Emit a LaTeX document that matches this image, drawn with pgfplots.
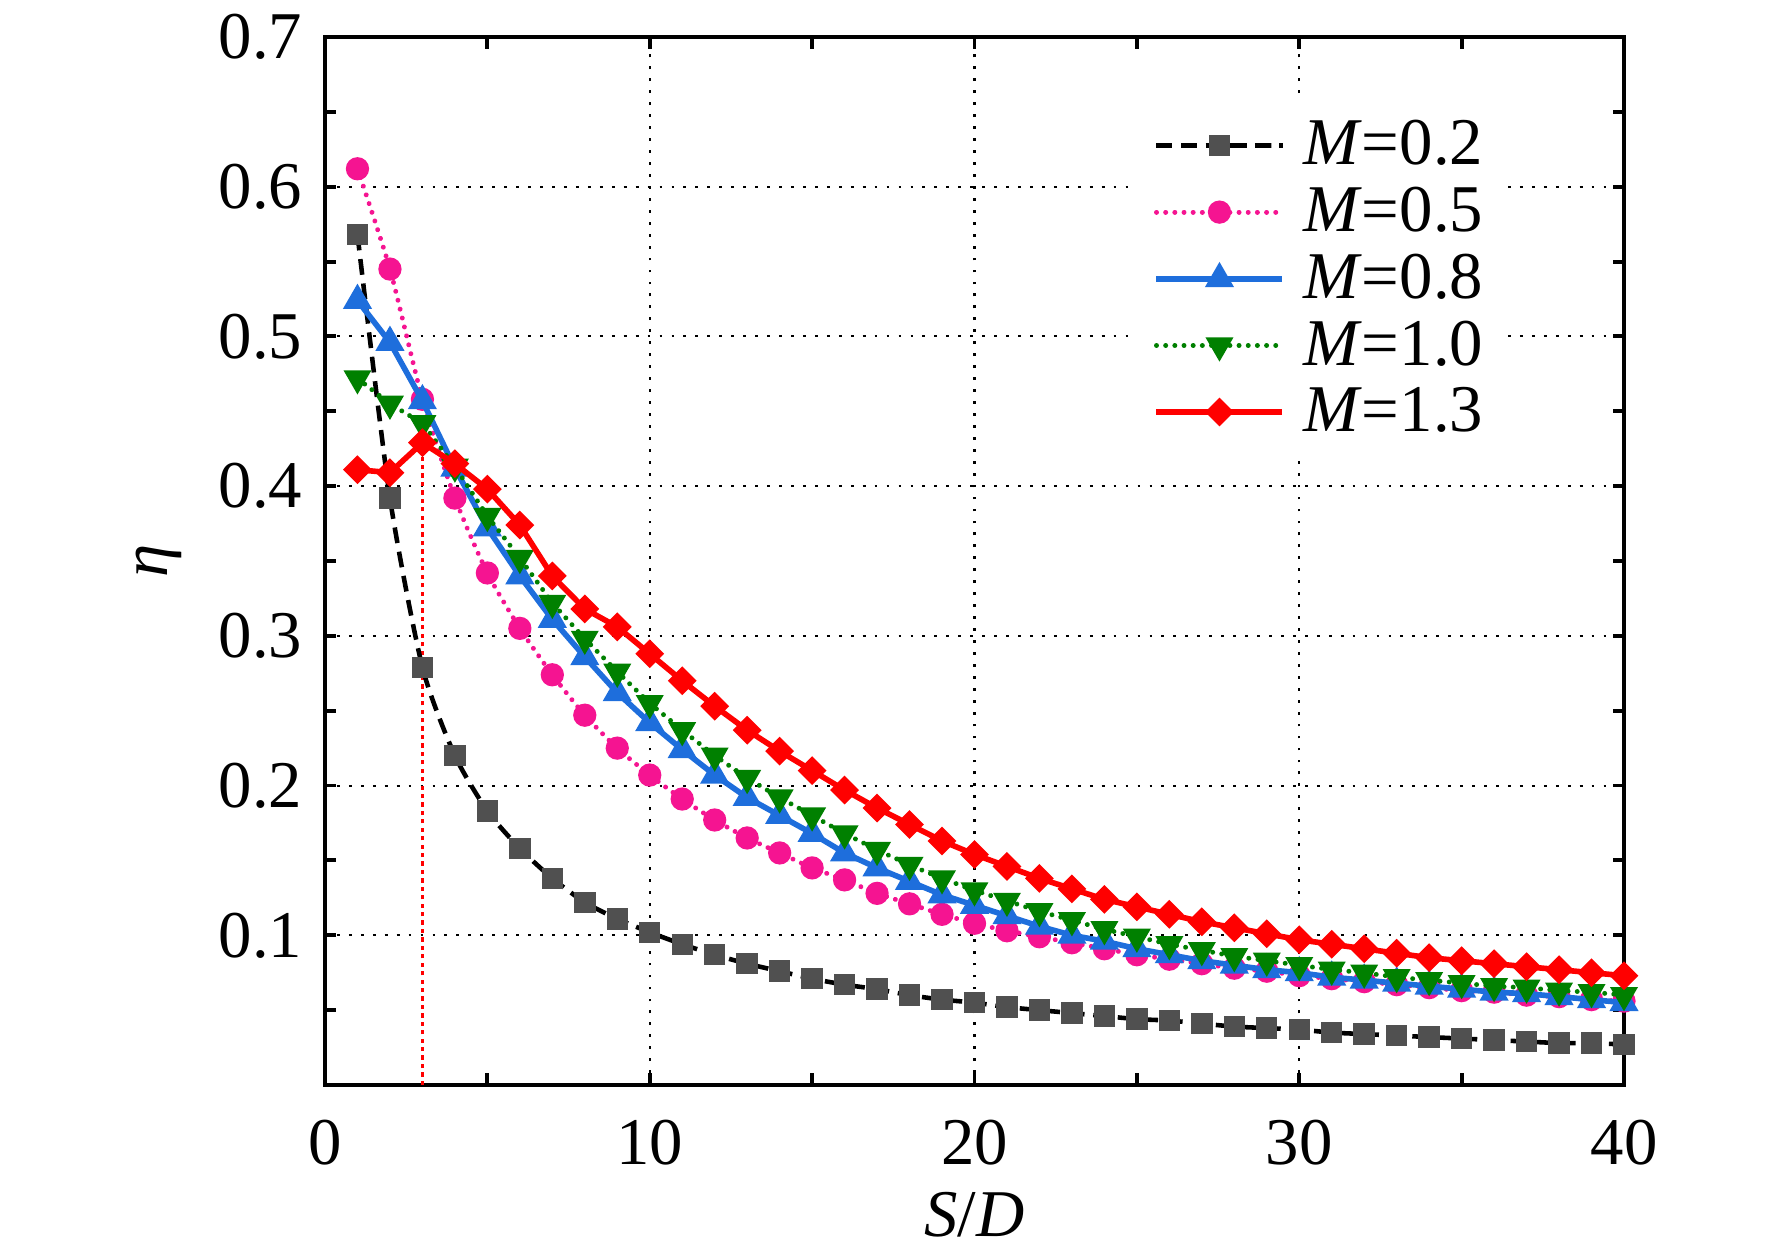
\documentclass[border=0pt]{standalone}
\usepackage{fontspec}
\setmainfont{Liberation Serif}
\usepackage{pgfplots}
\pgfplotsset{compat=1.18}
\definecolor{cgray}{RGB}{80,80,80}
\definecolor{cpink}{RGB}{245,20,145}
\definecolor{cblue}{RGB}{30,110,220}
\definecolor{cgreen}{RGB}{0,128,0}
\definecolor{cred}{RGB}{255,0,0}
\newcommand{\bigf}{\fontsize{19pt}{22pt}\selectfont}
\begin{document}
\begin{tikzpicture}
\path[use as bounding box] (-3.25cm,-1.69cm) rectangle (14.47cm,10.85cm);
\begin{axis}[
  at={(0,0)}, anchor=south west,
  scale only axis, width=12.99cm, height=10.48cm,
  xmin=0, xmax=40, ymin=0, ymax=0.7,
  xtick={0,10,20,30,40}, minor xtick={5,15,25,35},
  ytick={0.1,0.2,0.3,0.4,0.5,0.6,0.7}, minor ytick={0.05,0.15,0.25,0.35,0.45,0.55,0.65},
  tick align=inside, tick pos=both,
  major tick length=0.115cm, minor tick length=0.115cm,
  every tick/.style={black, line width=1.1pt},
  every minor tick/.style={black, line width=1.1pt},
  axis line style={line width=1.1pt},
  xmajorgrids, ymajorgrids,
  major grid style={black, line width=0.6pt, dash pattern=on 0.8pt off 2.6pt},
  tick label style={font=\bigf},
  /pgf/number format/assume math mode=true,
  xticklabel style={anchor=north, inner sep=0pt, yshift=-0.34cm},
  yticklabel style={anchor=east, inner sep=0pt, xshift=-0.22cm,
    /pgf/number format/fixed, /pgf/number format/precision=1, /pgf/number format/fixed zerofill},
  xlabel={\textit{S}/\textit{D}},
  ylabel={\textit{η}},
  label style={font=\bigf},
  xlabel style={at={(axis description cs:0.5,0)}, anchor=center, inner sep=0pt, yshift=-1.30cm},
  ylabel style={at={(axis description cs:0,0.5)}, anchor=center, inner sep=0pt, yshift=1.66cm},
  clip mode=individual,
  legend cell align=left,
  legend style={at={(axis description cs:0.622,0.94)}, anchor=north west, draw=none, fill=white,
    inner sep=0.2cm, row sep=0.17cm, column sep=0.18cm, nodes={inner sep=0pt}, font=\bigf},
  legend image code/.code={\draw[mark repeat=2,mark phase=2,#1] plot coordinates {(0cm,0cm) (0.63cm,0cm) (1.26cm,0cm)};},
]
\addplot[cred, line width=0.8pt, dash pattern=on 1.2pt off 1.2pt, forget plot] coordinates {(3,0) (3,0.429)};

\addplot[black, line width=1.3pt, dash pattern=on 4.5pt off 2.5pt, smooth, tension=0.4,
  mark=square*, mark size=2.4pt, mark options={solid, draw=cgray, fill=cgray}] coordinates {
(1,0.568) (2,0.392) (3,0.279) (4,0.220) (5,0.183) (6,0.158) (7,0.138) (8,0.122) (9,0.111) (10,0.102)
(11,0.094) (12,0.087) (13,0.081) (14,0.076) (15,0.071) (16,0.067) (17,0.064) (18,0.060) (19,0.057) (20,0.055)
(21,0.052) (22,0.050) (23,0.048) (24,0.046) (25,0.044) (26,0.043) (27,0.041) (28,0.039) (29,0.038) (30,0.037)
(31,0.035) (32,0.034) (33,0.033) (34,0.032) (35,0.031) (36,0.030) (37,0.029) (38,0.028) (39,0.028) (40,0.027)};
\addlegendentry{\textit{M}=0.2}

\addplot[cpink, line width=1.4pt, line cap=round, dash pattern=on 0.01pt off 2.6pt, smooth, tension=0.4,
  mark=*, mark size=2.6pt, mark options={solid, draw=cpink, fill=cpink}] coordinates {
(1,0.612) (2,0.545) (3,0.458) (4,0.392) (5,0.342) (6,0.305) (7,0.274) (8,0.247) (9,0.225) (10,0.207)
(11,0.191) (12,0.177) (13,0.165) (14,0.155) (15,0.145) (16,0.137) (17,0.128) (18,0.121) (19,0.114) (20,0.108)
(21,0.103) (22,0.099) (23,0.095) (24,0.091) (25,0.087) (26,0.084) (27,0.081) (28,0.078) (29,0.076) (30,0.073)
(31,0.071) (32,0.069) (33,0.067) (34,0.065) (35,0.063) (36,0.062) (37,0.060) (38,0.059) (39,0.057) (40,0.056)};
\addlegendentry{\textit{M}=0.5}

\addplot[cblue, line width=1.6pt,
  mark=triangle*, mark size=3.2pt, mark options={solid, draw=cblue, fill=cblue}] coordinates {
(1,0.524) (2,0.496) (3,0.457) (4,0.412) (5,0.372) (6,0.340) (7,0.311) (8,0.286) (9,0.262) (10,0.242)
(11,0.224) (12,0.207) (13,0.192) (14,0.180) (15,0.168) (16,0.155) (17,0.145) (18,0.136) (19,0.127) (20,0.120)
(21,0.113) (22,0.106) (23,0.100) (24,0.096) (25,0.091) (26,0.087) (27,0.083) (28,0.080) (29,0.077) (30,0.075)
(31,0.072) (32,0.070) (33,0.068) (34,0.066) (35,0.064) (36,0.062) (37,0.061) (38,0.059) (39,0.057) (40,0.055)};
\addlegendentry{\textit{M}=0.8}

\addplot[cgreen, line width=1.4pt, line cap=round, dash pattern=on 0.01pt off 2.6pt,
  mark=triangle*, mark size=3.2pt, mark options={solid, rotate=180, draw=cgreen, fill=cgreen}] coordinates {
(1,0.472) (2,0.455) (3,0.442) (4,0.413) (5,0.380) (6,0.352) (7,0.322) (8,0.298) (9,0.276) (10,0.255)
(11,0.237) (12,0.220) (13,0.205) (14,0.192) (15,0.180) (16,0.168) (17,0.157) (18,0.147) (19,0.138) (20,0.130)
(21,0.123) (22,0.116) (23,0.110) (24,0.104) (25,0.099) (26,0.094) (27,0.090) (28,0.086) (29,0.083) (30,0.080)
(31,0.077) (32,0.075) (33,0.072) (34,0.070) (35,0.068) (36,0.066) (37,0.065) (38,0.063) (39,0.062) (40,0.060)};
\addlegendentry{\textit{M}=1.0}

\addplot[cred, line width=1.6pt,
  mark=square*, mark size=2.1pt, mark options={solid, rotate=45, draw=cred, fill=cred}] coordinates {
(1,0.411) (2,0.409) (3,0.429) (4,0.415) (5,0.398) (6,0.374) (7,0.340) (8,0.318) (9,0.306) (10,0.288)
(11,0.270) (12,0.253) (13,0.237) (14,0.223) (15,0.210) (16,0.197) (17,0.185) (18,0.174) (19,0.163) (20,0.154)
(21,0.146) (22,0.138) (23,0.131) (24,0.124) (25,0.119) (26,0.114) (27,0.109) (28,0.105) (29,0.101) (30,0.097)
(31,0.094) (32,0.091) (33,0.088) (34,0.085) (35,0.083) (36,0.081) (37,0.079) (38,0.077) (39,0.075) (40,0.073)};
\addlegendentry{\textit{M}=1.3}
\end{axis}
\end{tikzpicture}
\end{document}
